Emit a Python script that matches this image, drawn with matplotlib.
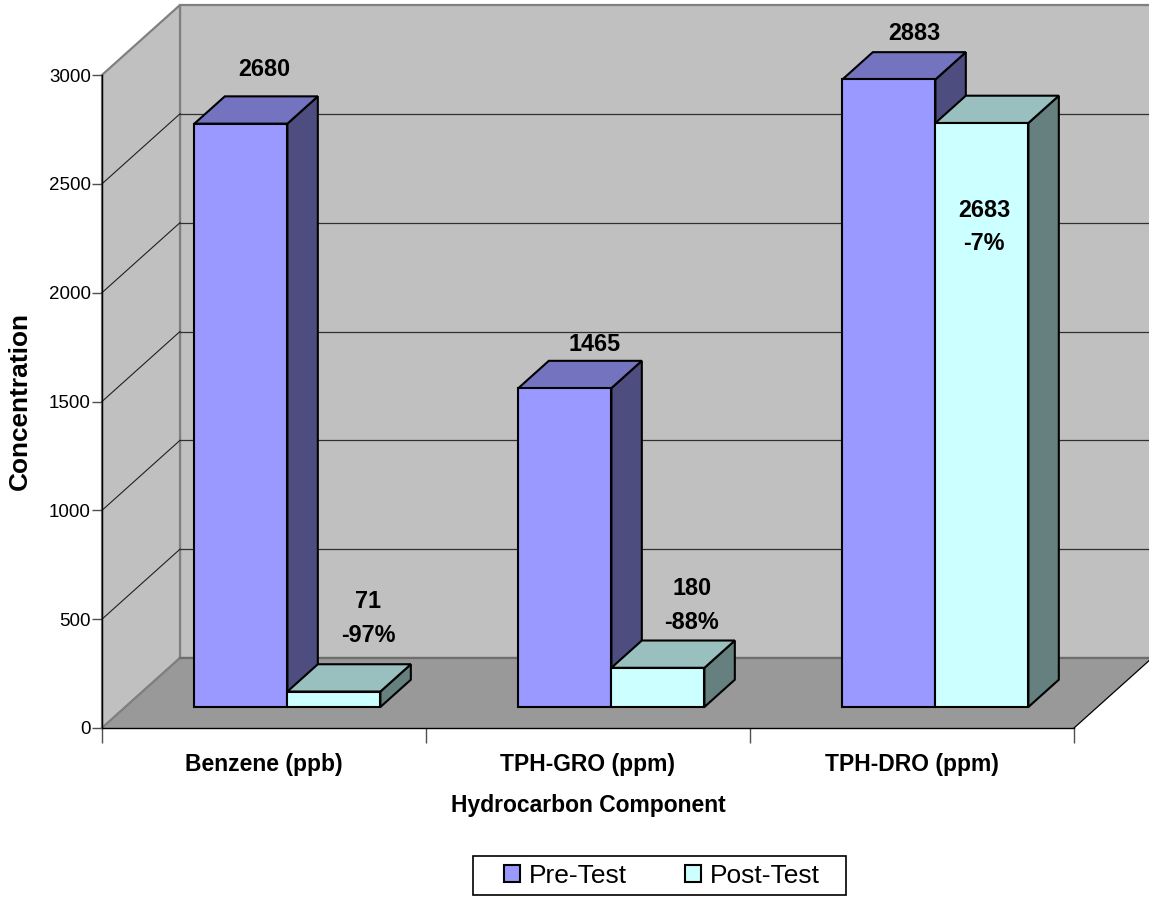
import matplotlib
matplotlib.use('Agg')
import matplotlib.pyplot as plt
from matplotlib.patches import Polygon, Patch, Rectangle

plt.rcParams['font.family'] = ['Liberation Sans', 'DejaVu Sans']

categories = ['Benzene (ppb)', 'TPH-GRO (ppm)', 'TPH-DRO (ppm)']
pre_test = [2680, 1465, 2883]
post_test = [71, 180, 2683]
pre_labels = ['2680', '1465', '2883']
post_labels = ['71\n-97%', '180\n-88%', '2683\n-7%']
y_ticks = [0, 500, 1000, 1500, 2000, 2500, 3000]

# label offsets in pixels from the front top centre of each bar
pre_offsets = [(23, 54), (30, 44), (25, 46)]
post_offsets = [(34, 73), (34, 62), (2, -104)]

fig = plt.figure(figsize=(11.49, 8.99), dpi=100)
ax = fig.add_axes([102 / 1149, 171 / 899, 972 / 1149, 653 / 899])
ax.set_xlim(0, 3)
ax.set_ylim(0, 3000)
ax.patch.set_visible(False)

# oblique depth of the fake 3D box, in data units
DX = 78 / 324
DY = 70 / 653 * 3000
BAR_W = 93 / 324
D_FRONT = 0.30
D_BACK = 0.69


def pt(x, y, d=0.0):
    return (x + d * DX, y + d * DY)


def poly(points, fc, ec='none', lw=0.0, z=1):
    ax.add_patch(Polygon(points, closed=True, facecolor=fc, edgecolor=ec,
                         linewidth=lw, clip_on=False, zorder=z, joinstyle='miter'))


# walls and floor
WALL = '#c0c0c0'
FLOOR = '#999999'
EDGE = '#808080'
poly([pt(0, 0, 1), pt(3, 0, 1), pt(3, 3000, 1), pt(0, 3000, 1)], WALL, EDGE, 1.6, 1)
poly([pt(0, 0), pt(0, 0, 1), pt(0, 3000, 1), pt(0, 3000)], WALL, EDGE, 1.6, 1)
poly([pt(0, 0), pt(3, 0), pt(3, 0, 1), pt(0, 0, 1)], FLOOR, 'none', 0, 2)
ax.plot(*zip(pt(0, 0), pt(0, 0, 1)), color=EDGE, lw=1.6, zorder=3, clip_on=False)
ax.plot(*zip(pt(0, 0, 1), pt(3, 0, 1)), color='#6e6e6e', lw=1.6, zorder=3, clip_on=False)
ax.plot(*zip(pt(3, 0), pt(3, 0, 1)), color='black', lw=0.9, zorder=3, clip_on=False)

# gridlines on the back and side walls
for v in y_ticks[1:-1]:
    ax.plot(*zip(pt(0, v, 1), pt(3, v, 1)), color='#303030', lw=0.9, zorder=3, clip_on=False)
    ax.plot(*zip(pt(0, v), pt(0, v, 1)), color='#202020', lw=0.8, zorder=3, clip_on=False)


def bar3d(x0, value, front, top, side, z):
    x1 = x0 + BAR_W
    poly([pt(x1, 0, D_FRONT), pt(x1, 0, D_BACK), pt(x1, value, D_BACK), pt(x1, value, D_FRONT)],
         side, 'black', 1.5, z)
    poly([pt(x0, value, D_FRONT), pt(x1, value, D_FRONT), pt(x1, value, D_BACK), pt(x0, value, D_BACK)],
         top, 'black', 1.5, z)
    poly([pt(x0, 0, D_FRONT), pt(x1, 0, D_FRONT), pt(x1, value, D_FRONT), pt(x0, value, D_FRONT)],
         front, 'black', 1.5, z)


PRE = ('#9999ff', '#7373bf', '#4d4d80')
POST = ('#ccffff', '#99bfbf', '#668080')
for i in range(len(categories)):
    left = i + 0.5 - BAR_W
    bar3d(left, pre_test[i], *PRE, 4 + 2 * i)
    bar3d(left + BAR_W, post_test[i], *POST, 5 + 2 * i)
    for x0, val, lab, off in [(left, pre_test[i], pre_labels[i], pre_offsets[i]),
                              (left + BAR_W, post_test[i], post_labels[i], post_offsets[i])]:
        ax.annotate(lab, xy=pt(x0 + BAR_W / 2, val, D_FRONT), xytext=off,
                    textcoords='offset pixels', ha='center', va='center',
                    fontsize=16.8, fontweight='bold', linespacing=1.6,
                    zorder=20, annotation_clip=False)

# axes
for name in ['top', 'right']:
    ax.spines[name].set_visible(False)
for name in ['left', 'bottom']:
    ax.spines[name].set_linewidth(1.0)
    ax.spines[name].set_color('black')
    ax.spines[name].set_zorder(15)
ax.set_yticks(y_ticks)
ax.tick_params(axis='y', labelsize=13.5, length=7, width=1, color='#505050', pad=1)
ax.set_xticks([0, 1, 2, 3])
ax.set_xticklabels([])
ax.tick_params(axis='x', length=11, width=1, color='#505050')
ax.set_xticks([0.5, 1.5, 2.5], minor=True)
ax.set_xticklabels(categories, minor=True, fontsize=16.5, fontweight='bold')
ax.tick_params(axis='x', which='minor', length=0, pad=18)

ax.set_xlabel('Hydrocarbon Component', fontsize=16.5, fontweight='bold', labelpad=13)
ax.set_ylabel('Concentration', fontsize=18.9, fontweight='bold', labelpad=12)

# legend frame is wider than the entries, so it is drawn on its own
fig.add_artist(Rectangle((473 / 1149, 1 - 895 / 899), 373 / 1149, 39 / 899,
                         transform=fig.transFigure, facecolor='white',
                         edgecolor='black', linewidth=1.2))
handles = [Patch(facecolor=PRE[0], edgecolor='black', linewidth=1.5, label='Pre-Test'),
           Patch(facecolor=POST[0], edgecolor='black', linewidth=1.5, label='Post-Test')]
fig.legend(handles=handles, ncol=2, loc='center', bbox_to_anchor=(661.5 / 1149, 1 - 876 / 899),
           fontsize=19, frameon=False,
           handlelength=0.64, handleheight=0.64, handletextpad=0.3, columnspacing=2.2,
           borderpad=0, borderaxespad=0)

fig.savefig('out.png', dpi=100, facecolor='white')
